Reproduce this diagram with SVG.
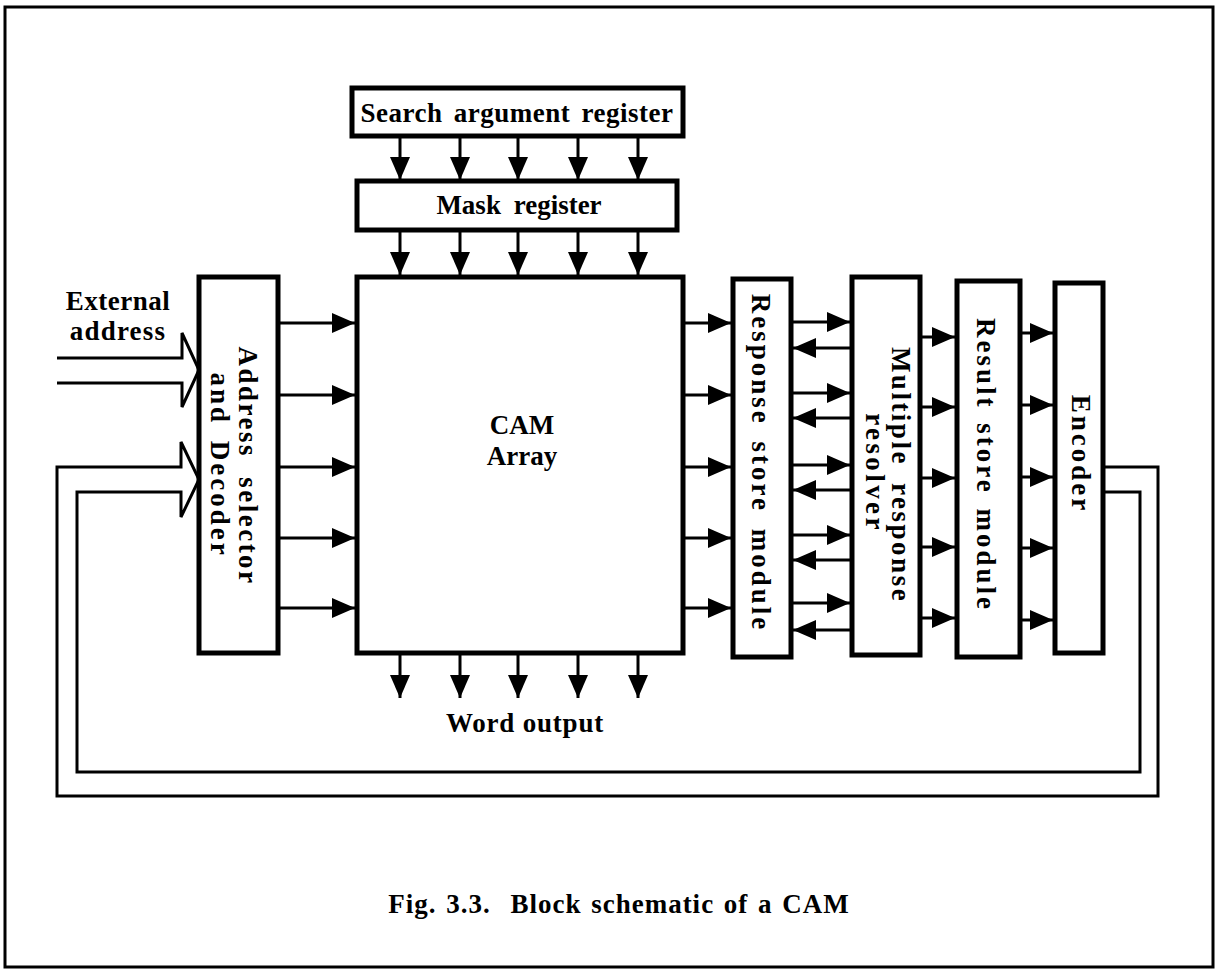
<svg xmlns="http://www.w3.org/2000/svg" width="1220" height="978" viewBox="0 0 1220 978">
<defs>
<style>
.box{fill:#fff;stroke:#000;stroke-width:5}
.ln{fill:none;stroke:#000;stroke-width:3}
.ar{fill:none;stroke:#000;stroke-width:3;marker-end:url(#ah)}
.t{font-family:"Liberation Serif","Times New Roman",serif;font-weight:bold;font-size:27px;fill:#000}
.m{text-anchor:middle}
</style>
<marker id="ah" markerUnits="userSpaceOnUse" markerWidth="23" markerHeight="20" refX="23" refY="10" orient="auto" viewBox="0 0 23 20"><path d="M0,0 L23,10 L0,20 z" fill="#000"/></marker>
</defs>
<rect x="0" y="0" width="1220" height="978" fill="#fff"/>
<rect x="5" y="7" width="1208" height="960" fill="none" stroke="#000" stroke-width="3"/>

<g id="connectors">
<path class="ar" d="M400,136V180"/><path class="ar" d="M460,136V180"/><path class="ar" d="M518,136V180"/><path class="ar" d="M578,136V180"/><path class="ar" d="M638,136V180"/>
<path class="ar" d="M400,230V275"/><path class="ar" d="M460,230V275"/><path class="ar" d="M518,230V275"/><path class="ar" d="M578,230V275"/><path class="ar" d="M638,230V275"/>
<path class="ar" d="M400,654V698"/><path class="ar" d="M460,654V698"/><path class="ar" d="M518,654V698"/><path class="ar" d="M578,654V698"/><path class="ar" d="M638,654V698"/>
<path class="ar" d="M279,323H355"/><path class="ar" d="M279,395H355"/><path class="ar" d="M279,467H355"/><path class="ar" d="M279,538H355"/><path class="ar" d="M279,608H355"/>
<path class="ar" d="M684,323H731"/><path class="ar" d="M684,395H731"/><path class="ar" d="M684,467H731"/><path class="ar" d="M684,538H731"/><path class="ar" d="M684,608H731"/>
<path class="ar" d="M793,322H850"/><path class="ar" d="M793,393H850"/><path class="ar" d="M793,465H850"/><path class="ar" d="M793,535H850"/><path class="ar" d="M793,603H850"/>
<path class="ar" d="M850,348H793"/><path class="ar" d="M850,418H793"/><path class="ar" d="M850,490H793"/><path class="ar" d="M850,560H793"/><path class="ar" d="M850,630H793"/>
<path class="ar" d="M922,337H955"/><path class="ar" d="M922,407H955"/><path class="ar" d="M922,478H955"/><path class="ar" d="M922,547H955"/><path class="ar" d="M922,618H955"/>
<path class="ar" d="M1022,333H1053"/><path class="ar" d="M1022,405H1053"/><path class="ar" d="M1022,477H1053"/><path class="ar" d="M1022,548H1053"/><path class="ar" d="M1022,620H1053"/>
<path class="ln" d="M57,358H182V333L199,370L182,407V383H57"/>
<path class="ln" d="M1104,467H1158V796H57V467H181V442L199,479.5L181,517V492H77V772H1140V492H1104"/>
</g>

<g id="search-register">
<rect class="box" x="352" y="88" width="331" height="48"/>
<text class="t m" x="517" y="122" letter-spacing="0.5" word-spacing="4">Search argument register</text>
</g>
<g id="mask-register">
<rect class="box" x="357" y="181" width="320" height="49"/>
<text class="t m" x="519" y="214" word-spacing="6">Mask register</text>
</g>
<g id="cam-array">
<rect class="box" x="357" y="277" width="326" height="376"/>
<text class="t m" x="522" y="434">CAM</text>
<text class="t m" x="522" y="465">Array</text>
</g>
<g id="address-decoder">
<rect class="box" x="199" y="277" width="79" height="376"/>
<text class="t m" transform="translate(239,466) rotate(90)" letter-spacing="2.5" word-spacing="10">Address selector</text>
<text class="t m" transform="translate(211,465) rotate(90)" letter-spacing="3" word-spacing="6">and Decoder</text>
</g>
<g id="external-address">
<text class="t m" x="118" y="310" letter-spacing="0.5">External</text>
<text class="t m" x="118" y="340" letter-spacing="1.2">address</text>
</g>
<g id="response-store">
<rect class="box" x="733" y="279" width="58" height="378"/>
<text class="t m" transform="translate(752,463) rotate(90)" letter-spacing="3" word-spacing="6">Response store module</text>
</g>
<g id="multiple-resolver">
<rect class="box" x="852" y="277" width="68" height="378"/>
<text class="t m" transform="translate(892,475) rotate(90)" letter-spacing="2.5" word-spacing="8">Multiple response</text>
<text class="t m" transform="translate(866,473) rotate(90)" letter-spacing="3.4">resolver</text>
</g>
<g id="result-store">
<rect class="box" x="957" y="281" width="63" height="376"/>
<text class="t m" transform="translate(977,465) rotate(90)" letter-spacing="3" word-spacing="4">Result store module</text>
</g>
<g id="encoder">
<rect class="box" x="1055" y="283" width="48" height="370"/>
<text class="t m" transform="translate(1072,454) rotate(90)" letter-spacing="3">Encoder</text>
</g>
<g id="word-output">
<text class="t m" x="525" y="732" letter-spacing="0.8">Word output</text>
</g>
<g id="caption">
<text class="t m" x="619" y="913" letter-spacing="1" word-spacing="2">Fig. 3.3. <tspan dx="10">Block schematic of a CAM</tspan></text>
</g>
</svg>
